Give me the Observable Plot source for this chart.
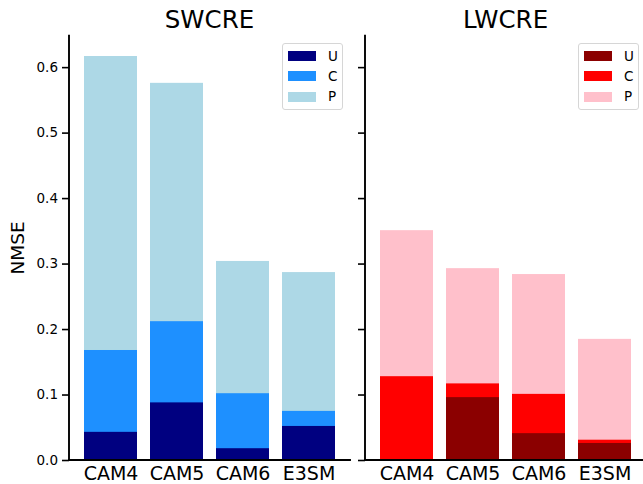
<!DOCTYPE html>
<html><head><meta charset="utf-8">
<script src="https://cdn.jsdelivr.net/npm/d3@7"></script>
<script src="https://cdn.jsdelivr.net/npm/@observablehq/plot@0.6"></script>
<style>
body{margin:0;background:#fff;font-family:"DejaVu Sans",sans-serif;color:#000;}
#fig{position:relative;width:643px;height:484px;overflow:hidden;background:#fff;}
.panel{position:absolute;top:0;}
.title{position:absolute;font-size:24.5px;line-height:1;top:7.6px;transform:translateX(-50%);white-space:nowrap;}
.ylab{position:absolute;font-size:18.5px;line-height:1;left:18px;top:248px;transform:translate(-50%,-50%) rotate(-90deg);white-space:nowrap;}
.legend{position:absolute;top:43px;width:59px;height:65px;border:1px solid #d6d6d6;border-radius:3px;background:rgba(255,255,255,0.8);}
.patch{position:absolute;left:5px;width:28px;height:10px;}
.ltext{position:absolute;left:45px;font-size:13.5px;line-height:1;}
</style>
</head><body>
<div id="fig"></div>
<script>
const models = ["CAM4", "CAM5", "CAM6", "E3SM"];
const seriesNames = ["U", "C", "P"];
// SWCRE values (bars drawn from zero, overlapping)
const swU = [0.043, 0.088, 0.018, 0.052];
const swC = [0.168, 0.212, 0.102, 0.075];
const swP = [0.617, 0.576, 0.304, 0.287];
// LWCRE values
const lwU = [0.0, 0.096, 0.041, 0.026];
const lwC = [0.128, 0.117, 0.101, 0.031];
const lwP = [0.351, 0.293, 0.284, 0.185];
const yTicks = [0, 0.1, 0.2, 0.3, 0.4, 0.5, 0.6];
const swColors = ["#000080", "#1e90ff", "#add8e6"];
const lwColors = ["#8b0000", "#ff0000", "#ffc0cb"];
const titles = ["SWCRE", "LWCRE"];

// left and bottom spines, drawn from the plot's own dimensions and y scale
function spines(index, scales, values, dim) {
  const ns = "http://www.w3.org/2000/svg";
  const g = document.createElementNS(ns, "g");
  const x0 = dim.marginLeft, x1 = dim.width - dim.marginRight;
  const y0 = scales.y(0), yTop = dim.marginTop;
  const mk = (a, b, c, d) => {
    const l = document.createElementNS(ns, "line");
    l.setAttribute("x1", a); l.setAttribute("y1", b); l.setAttribute("x2", c); l.setAttribute("y2", d);
    l.setAttribute("stroke", "#000"); l.setAttribute("stroke-width", "1.9"); l.setAttribute("stroke-linecap", "square");
    g.appendChild(l);
  };
  mk(x0, y0, x0, yTop);
  mk(x0, y0, x1, y0);
  return g;
}

function panel(U, C, P, colors, showLabels) {
  const bar = (vals, color) => Plot.barY(models, {x: d => d, y1: 0, y2: (d, i) => vals[i], fill: color});
  return Plot.plot({
    width: 360, height: 484,
    marginLeft: 69, marginRight: 10, marginTop: 35.7, marginBottom: 24,
    style: {fontFamily: "DejaVu Sans", background: "transparent", color: "#000"},
    x: {domain: models, paddingInner: 0.2, paddingOuter: 0.2, label: null},
    y: {domain: [0, 0.648], label: null},
    marks: [
      bar(P, colors[2]),
      bar(C, colors[1]),
      bar(U, colors[0]),
      Plot.axisY({ticks: yTicks, tickSize: 7, tickPadding: 4.5, strokeWidth: 1.6,
        tickFormat: showLabels ? (d => d.toFixed(1)) : (() => ""), fontSize: 13.5, label: null}),
      Plot.axisX({tickSize: 0, tickPadding: 6, fontSize: 19, label: null}),
      spines
    ]
  });
}

const fig = document.getElementById("fig");
const p1 = panel(swU, swC, swP, swColors, true);
p1.classList.add("panel"); p1.style.left = "0px";
const p2 = panel(lwU, lwC, lwP, lwColors, false);
p2.classList.add("panel"); p2.style.left = "296px";
fig.appendChild(p1); fig.appendChild(p2);

const centers = [209.5, 505.5];
titles.forEach((t, k) => {
  const d = document.createElement("div");
  d.className = "title"; d.textContent = t; d.style.left = centers[k] + "px";
  fig.appendChild(d);
});
const yl = document.createElement("div");
yl.className = "ylab"; yl.textContent = "NMSE"; fig.appendChild(yl);

function legend(left, colors) {
  const box = document.createElement("div");
  box.className = "legend"; box.style.left = left + "px";
  const rowsY = [7, 27, 47.5];
  seriesNames.forEach((s, i) => {
    const p = document.createElement("div");
    p.className = "patch"; p.style.top = rowsY[i] + "px"; p.style.background = colors[i];
    const t = document.createElement("div");
    t.className = "ltext"; t.style.top = (rowsY[i] - 1.5) + "px"; t.textContent = s;
    box.appendChild(p); box.appendChild(t);
  });
  fig.appendChild(box);
}
legend(282, swColors);
legend(578, lwColors);
</script>
</body></html>
